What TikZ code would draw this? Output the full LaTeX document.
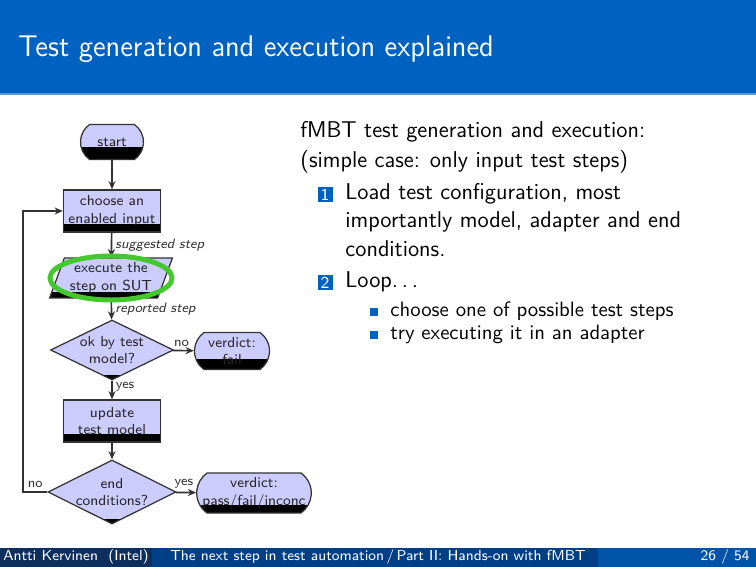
\documentclass[tikz,border=0pt]{standalone}
\usepackage{fontspec}
\usepackage{graphicx}
\usetikzlibrary{shapes.geometric,shapes.misc,arrows.meta}
\definecolor{titlebar}{HTML}{0062C0}
\definecolor{titleline}{HTML}{5A9AD8}
\definecolor{footA}{HTML}{0E2F5E}
\definecolor{footB}{HTML}{003F86}
\definecolor{footC}{HTML}{0053A8}
\definecolor{nodefill}{HTML}{CCCCFF}
\definecolor{hlgreen}{HTML}{44C82E}
\newdimen\pxu \pxu=0.48173pt
\begin{document}
\begin{tikzpicture}[x=0.48173pt,y=-0.48173pt,
  band/.style={path picture={\fill[black] ([yshift=#1*\pxu]path picture bounding box.south west) rectangle (path picture bounding box.south east);}},
  flow/.style={draw=black!80, fill=nodefill, line width=0.6pt, font=\fontsize{7}{8.5}\selectfont\sffamily, align=center, inner sep=0pt, text=black!85},
  procbox/.style={flow, rectangle, minimum width=97*\pxu, minimum height=42*\pxu, band=8},
  termbox/.style={flow, rounded rectangle, rounded rectangle arc length=110},
  decbox/.style={flow, diamond, aspect=2, minimum width=123*\pxu, minimum height=60*\pxu, band=5},
  iobox/.style={flow, trapezium, trapezium left angle=67, trapezium right angle=113, trapezium stretches=true, minimum width=123*\pxu, minimum height=40*\pxu, band=6},
  arr/.style={draw=black!80, line width=0.8pt, -{Stealth[length=4pt,width=3.4pt]}},
  lbl/.style={font=\fontsize{6.6}{8}\selectfont\sffamily, text=black!80, inner sep=1.5pt},
  ilbl/.style={lbl, font=\fontsize{6.6}{8}\selectfont\sffamily\itshape},
  txt/.style={font=\fontsize{11}{13.6}\selectfont\sffamily, inner sep=0pt, text=black},
  stxt/.style={font=\fontsize{10}{12}\selectfont\sffamily, inner sep=0pt, text=black},
  numbox/.style={fill=titlebar, text=white, minimum size=15*\pxu, inner sep=0pt, font=\fontsize{8}{8}\selectfont\sffamily},
  bull/.style={fill=titlebar, minimum size=8*\pxu, inner sep=0pt},
  foot/.style={font=\fontsize{7}{8}\selectfont\sffamily, text=white, inner sep=0pt}
]
\useasboundingbox (0,0) rectangle (756,567);
% title bar
\fill[titlebar] (0,0) rectangle (756,93);
\fill[titleline] (0,93) rectangle (756,95);
\node[anchor=base west, inner sep=0pt, text=white] (title) at (18,57)
  {\resizebox{229pt}{\height}{\fontsize{14.4}{17}\selectfont\sffamily Test generation and execution explained}};
% footer
\fill[footA] (0,548) rectangle (152,567);
\fill[footB] (152,548) rectangle (598,567);
\fill[footC] (598,548) rectangle (756,567);
\node[foot, anchor=base] (fa) at (76,560) {Antti Kervinen\ \ (Intel)};
\node[foot, anchor=base] (fb) at (378,560) {The next step in test automation\,/\,Part II: Hands-on with fMBT};
\node[foot, anchor=base east] (fc) at (750,560) {26 / 54};

% flowchart
\node[termbox, minimum width=63*\pxu, minimum height=35*\pxu, band=12] (start) at (112,142) {start};
\node[procbox] (choose) at (112,211) {choose an\\enabled input};
\node[iobox] (exec) at (111,278) {execute the\\step on SUT};
\node[decbox] (ok) at (112,350) {ok by test\\model?};
\node[termbox, minimum width=75*\pxu, minimum height=37*\pxu, band=10] (fail) at (232,351) {verdict:\\fail};
\node[procbox] (update) at (112,421) {update\\test model};
\node[decbox] (endc) at (112,492) {end\\conditions?};
\node[termbox, minimum width=112*\pxu, minimum height=40*\pxu, band=8] (pass) at (254,493) {verdict:\\pass/fail/inconc};

\draw[arr] (start) -- (choose);
\draw[arr] (choose) -- node[ilbl, right, pos=0.5] {suggested step} (exec);
\draw[arr] (exec) -- node[ilbl, right, pos=0.5] {reported step} (ok);
\draw[arr] (ok) -- node[lbl, above, pos=0.4] {no} (fail);
\draw[arr] (ok) -- node[lbl, right, pos=0.35] {yes} (update);
\draw[arr] (update) -- (endc);
\draw[arr] (endc) -- node[lbl, above, pos=0.4] {yes} (pass);
\coordinate (loopc) at (23,492);
\draw[arr] (endc.west) -- node[lbl, above, pos=0.5] {no} (loopc) |- (choose.west);

% highlight
\draw[hlgreen, line width=2.4pt] (exec.center) ellipse [x radius=61, y radius=22];

% right text
\node[txt, anchor=base west] (l1) at (300,138) {fMBT test generation and execution:};
\node[txt, anchor=base west] (l2) at (300,168) {(simple case: only input test steps)};
\node[numbox] (n1) at (325,194.5) {1};
\node[txt, anchor=base west] (i1a) at (345,200) {Load test configuration, most};
\node[txt, anchor=base west] (i1b) at (345,228) {importantly model, adapter and end};
\node[txt, anchor=base west] (i1c) at (345,257) {conditions.};
\node[numbox] (n2) at (325,283) {2};
\node[txt, anchor=base west] (i2) at (345,288) {Loop.\,.\,.};
\node[bull] (b1) at (373.5,312.5) {};
\node[stxt, anchor=base west] (s1) at (390,317) {choose one of possible test steps};
\node[bull] (b2) at (373.5,335.5) {};
\node[stxt, anchor=base west] (s2) at (390,340) {try executing it in an adapter};
\end{tikzpicture}
\end{document}
